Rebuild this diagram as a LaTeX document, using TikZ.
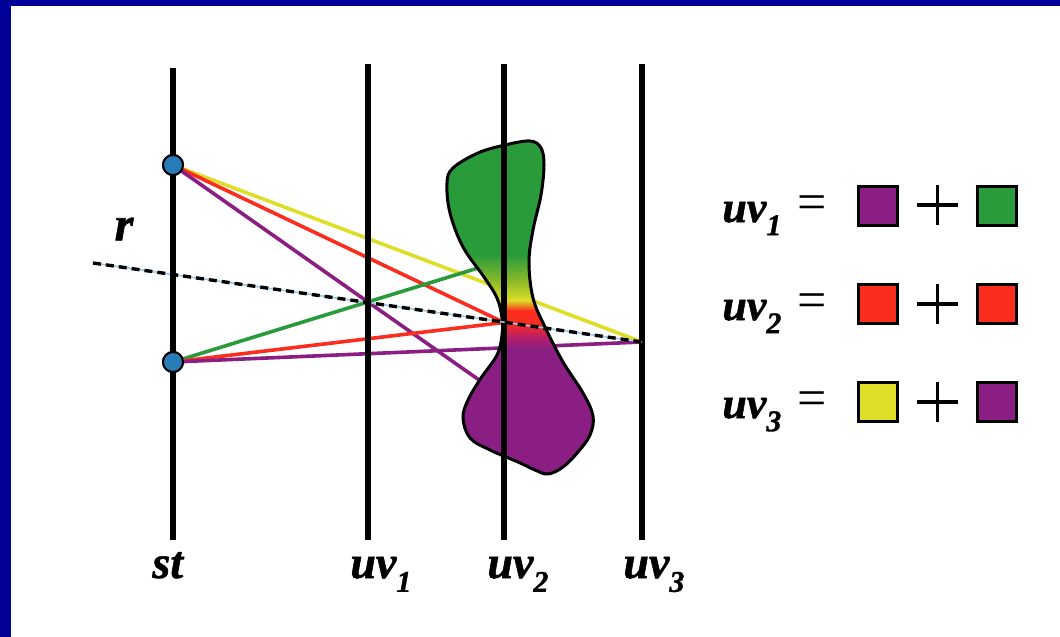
\documentclass[tikz,border=0pt]{standalone}
\usepackage{fontspec}
\setmainfont{Liberation Serif}
\newfontfamily\lblfont{Liberation Serif Bold Italic}[FakeBold=1.2]
\definecolor{bgblue}{RGB}{0,0,150}
\definecolor{cyel}{RGB}{222,222,40}
\definecolor{cred}{RGB}{250,45,30}
\definecolor{cpur}{RGB}{138,30,130}
\definecolor{cgrn}{RGB}{42,155,58}
\definecolor{cdot}{RGB}{40,125,185}
\definecolor{cdash}{RGB}{150,200,230}
\definecolor{cmag}{RGB}{185,30,105}
\definecolor{cyg}{RGB}{150,190,40}
\newcommand{\lsub}[1]{\raisebox{-0.3em}{\fontsize{15}{15}\selectfont #1}}
\begin{document}
\begin{tikzpicture}[x=0.5pt,y=-0.5pt,
  axisline/.style={line width=3.3pt, black},
  ray/.style={line width=1.8pt},
  dot/.style={circle, fill=cdot, draw=black, line width=1pt, minimum size=10pt, inner sep=0pt},
  lbl/.style={font=\fontsize{23}{26}\lblfont, inner sep=0pt, anchor=base west},
  leg/.style={font=\fontsize{22}{26}\lblfont, inner sep=0pt, anchor=base west},
  eqs/.style={font=\fontsize{26}{26}\selectfont, inner sep=0pt},
  sq/.style={draw=black, line width=1.6pt, minimum size=19.5pt, inner sep=0pt},
  plusline/.style={line width=1.6pt, black},
  dashline/.style={line width=1.7pt, black, dash pattern=on 4pt off 2.5pt},
  blueline/.style={line width=0.8pt, cdash}]
% background
\fill[bgblue] (0,0) rectangle (1060,637);
\fill[white] (11,6) rectangle (1060,637);
\useasboundingbox (0,0) rectangle (1060,637);
% axes coordinates
\coordinate (sttop) at (173,68);  \coordinate (stbot) at (173,540);
\coordinate (u1top) at (368,64);  \coordinate (u1bot) at (368,540);
\coordinate (u2top) at (504,64);  \coordinate (u2bot) at (504,540);
\coordinate (u3top) at (642,64);  \coordinate (u3bot) at (642,540);
% key points
\coordinate (P1) at (368,302.5);
\coordinate (P2) at (504,322.5);
\coordinate (P3) at (642,342);
\coordinate (Q1) at (504,397.5);
\coordinate (Q2) at (504,260);
\coordinate (rs) at (93,263);
\node[dot] (A) at (173,165) {};
\node[dot] (B) at (173,362) {};
% rays
\draw[ray, cyel] (A.center) -- (P3);
\draw[ray, cred] (A.center) -- (P2);
\draw[ray, cpur] (A.center) -- (Q1);
\draw[ray, cgrn] (B.center) -- (Q2);
\draw[ray, cred] (B.center) -- (P2);
\draw[ray, cpur] (B.center) -- (P3);
% blob
\def\blobpath{plot[smooth cycle, tension=0.6] coordinates {(530,141) (541,148) (544,165) (541,195) (533,230) (529,262) (533,298) (545,327) (563,362) (583,393) (593,416) (590,435) (578,452) (563,467) (548,474) (535,470) (518,462) (490,450) (470,438) (463,418) (468,400) (481,378) (497,355) (502,335) (502,318) (497,298) (484,277) (463,247) (450,213) (447,183) (453,168) (478,153) (505,145)}}
\begin{scope}
\clip \blobpath;
\fill[cgrn] (430,120) rectangle (620,256);
\shade[top color=cgrn, bottom color=cyg] (430,255) rectangle (620,284);
\shade[top color=cyg, bottom color=cyel] (430,283) rectangle (620,301);
\shade[top color=cyel, bottom color=cred] (430,300) rectangle (620,311);
\fill[cred] (430,310) rectangle (620,323);
\shade[top color=cred, bottom color=cmag] (430,322) rectangle (620,338);
\shade[top color=cmag, bottom color=cpur] (430,337) rectangle (620,349);
\fill[cpur] (430,348) rectangle (620,490);
\end{scope}
\draw[line width=1.5pt, black] \blobpath;
% axes
\draw[axisline] (sttop) -- (stbot);
\draw[axisline] (u1top) -- (u1bot);
\draw[axisline] (u2top) -- (u2bot);
\draw[axisline] (u3top) -- (u3bot);
% dashed ray
\draw[blueline] (rs) -- (P3);
\draw[dashline] (rs) -- (P3);
% dots on top
\node[dot] at (A) {};
\node[dot] at (B) {};
% labels
\node[font=\fontsize{24}{26}\lblfont, inner sep=0pt] (lr) at (124,229) {r};
\node[lbl] (lst) at (152,578) {st};
\node[lbl] (luv1) at (350,578) {uv\lsub{1}};
\node[lbl] (luv2) at (487,578) {uv\lsub{2}};
\node[lbl] (luv3) at (623,578) {uv\lsub{3}};
% legend
\node[leg] (e1) at (722,222) {uv\lsub{1}};
\node[leg] (e2) at (722,320) {uv\lsub{2}};
\node[leg] (e3) at (722,418) {uv\lsub{3}};
\node[eqs] (q1) at (812,208) {=};
\node[eqs] (q2) at (812,306) {=};
\node[eqs] (q3) at (812,404) {=};
\node[sq, fill=cpur] (s11) at (878,206) {};
\node[sq, fill=cgrn] (s12) at (997,206) {};
\node[sq, fill=cred] (s21) at (878,304) {};
\node[sq, fill=cred] (s22) at (997,304) {};
\node[sq, fill=cyel] (s31) at (878,402) {};
\node[sq, fill=cpur] (s32) at (997,402) {};
\foreach \yy in {205,304,402}{
  \draw[plusline] (917,\yy) -- (958,\yy);
  \draw[plusline] (937.5,\yy-20) -- (937.5,\yy+20);
}
\end{tikzpicture}
\end{document}
